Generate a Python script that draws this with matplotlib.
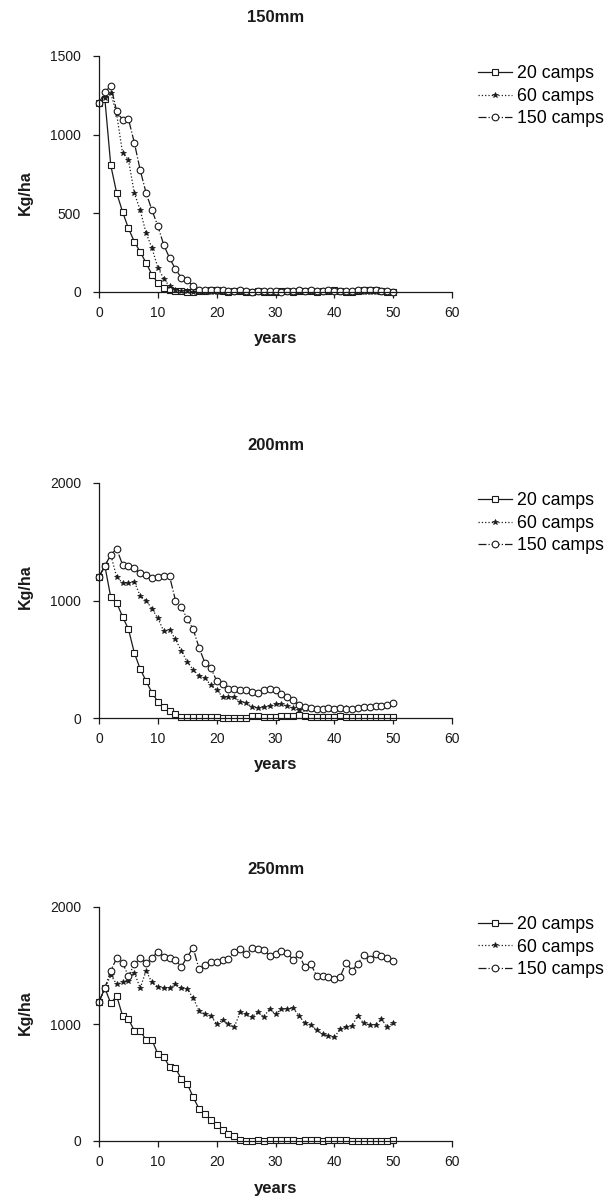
import matplotlib
matplotlib.use("Agg")
import matplotlib.pyplot as plt

plt.rcParams['font.family'] = ['Liberation Sans', 'DejaVu Sans']

# years 0..50
years = list(range(51))

# 150mm
c20_150 = [1200, 1225, 805, 630, 510, 405, 320, 255, 185, 110, 57, 25, 15, 8, 5, 3, 2,
           5, 8, 10, 10, 8, 3, 5, 5, 2, 3, 5, 3, 2, 3, 5, 5, 3, 5, 8, 5,
           3, 5, 8, 10, 5, 3, 3, 5, 12, 15, 12, 8, 2, 0]
c60_150 = [1200, 1230, 1265, 1130, 885, 840, 630, 520, 375, 280, 155, 85, 35, 15, 8, 5, 3,
           2, 2, 3, 2, 2, 2, 3, 2, 2, 2, 3, 3, 2, 2, 2, 3, 2, 2, 3, 2,
           2, 3, 2, 2, 2, 3, 3, 2, 2, 2, 3, 2, 2, 2]
c150_150 = [1200, 1270, 1310, 1150, 1095, 1100, 950, 775, 630, 520, 420, 300, 215, 145, 90, 75, 38, 10,
            10, 12, 10, 12, 5, 8, 10, 5, 3, 5, 5, 8, 5, 3, 5, 8, 10, 8, 10, 5,
            8, 10, 5, 5, 8, 5, 10, 12, 15, 12, 8, 5, 2]

# 200mm
c20_200 = [1203, 1294, 1027, 981, 862, 757, 556, 417, 315, 215, 139, 96, 60, 31, 11,
           8, 5, 5, 8, 5, 5, 3, 0, 0, 0, 2, 20, 15, 10, 8, 12, 15, 18, 20, 22,
           15, 10, 8, 8, 10, 12, 15, 8, 5, 5, 8, 5, 5, 8, 10, 8]
c60_200 = [1200, 1290, 1390, 1200, 1150, 1150, 1160, 1040, 1000, 930,
           850, 740, 750, 670, 570, 480, 410, 360, 340, 280,
           240, 180, 175, 175, 140, 130, 95, 85, 90, 105,
           115, 120, 100, 85, 65, 75, 80, 75, 80, 80,
           75, 80, 85, 75, 85, 90, 95, 100, 105, 100, 125]
c150_200 = [1200, 1294, 1390, 1440, 1305, 1295, 1275, 1230, 1220, 1190,
            1200, 1210, 1205, 1000, 947, 842, 757, 600, 469, 427,
            316, 287, 250, 245, 240, 236, 222, 216, 242, 250,
            242, 208, 179, 150, 108, 94, 85, 80, 80, 85,
            80, 85, 75, 80, 85, 90, 95, 100, 105, 110, 128]

# 250mm
c20_250 = [1190, 1307, 1176, 1241, 1071, 1043, 943, 943, 864, 864,
           744, 722, 631, 622, 531, 489, 375, 276, 233, 176,
           134, 91, 63, 40, 11,
           0, 2, 5, 3, 5, 10, 12, 8, 5, 3, 5, 8, 5, 3, 5, 10, 8, 5, 3, 2,
           2, 3, 2, 2, 3, 5]
c60_250 = [1190, 1300, 1420, 1340, 1355, 1370, 1440, 1307, 1455, 1355,
           1318, 1307, 1307, 1341, 1307, 1298, 1222, 1114, 1085, 1071,
           1000, 1034, 1000, 977, 1099, 1085, 1063, 1099, 1063, 1128,
           1085, 1128, 1128, 1136, 1071, 1006, 994, 949, 915, 900,
           886, 957, 977, 986, 1071, 1006, 994, 994, 1040, 976, 1010]
c150_250 = [1190, 1307, 1455, 1563, 1525, 1408, 1511, 1563, 1525, 1563,
            1619, 1574, 1568, 1545, 1489, 1574, 1653, 1469, 1506, 1531,
            1534, 1545, 1554, 1619, 1640, 1597, 1653, 1639, 1635, 1582,
            1597, 1625, 1611, 1545, 1597, 1483, 1511, 1412, 1412, 1398,
            1384, 1403, 1525, 1455, 1517, 1591, 1554, 1597, 1579, 1567, 1536]

titles = ["150mm", "200mm", "250mm"]
ymaxes = [1500, 2000, 2000]
yticks = [[0, 500, 1000, 1500], [0, 1000, 2000], [0, 1000, 2000]]
labels = ["20 camps", "60 camps", "150 camps"]
panels = [(c20_150, c60_150, c150_150),
          (c20_200, c60_200, c150_200),
          (c20_250, c60_250, c150_250)]

W, H = 609, 1201
fig = plt.figure(figsize=(W / 100, H / 100), dpi=100)

# axes boxes in pixels: top, bottom
boxes = [(56, 292), (483, 718), (907, 1141)]
ylab_pos = [0.42, 0.56, 0.55]
ink = '#1a1a1a'

for i in range(3):
    top, bot = boxes[i]
    ax = fig.add_axes([99 / W, 1 - bot / H, (452 - 99) / W, (bot - top) / H])
    s20, s60, s150 = panels[i]

    ax.plot(years, s20, color=ink, lw=0.9, ls='-', marker='s', ms=4.8,
            mfc='white', mec=ink, mew=0.8, label=labels[0], clip_on=False)
    ax.plot(years, s60, color=ink, lw=0.9, ls=':', marker='*', ms=4.2,
            mfc=ink, mec=ink, mew=0.5, label=labels[1], clip_on=False)
    ax.plot(years, s150, color=ink, lw=0.9, ls='-.', marker='o', ms=4.8,
            mfc='white', mec=ink, mew=0.8, label=labels[2], clip_on=False)

    ax.set_xlim(0, 60)
    ax.set_ylim(0, ymaxes[i])
    ax.set_xticks(range(0, 61, 10))
    ax.set_yticks(yticks[i])
    for sp in ['top', 'right']:
        ax.spines[sp].set_visible(False)
    for sp in ['left', 'bottom']:
        ax.spines[sp].set_linewidth(0.9)
        ax.spines[sp].set_color(ink)
    ax.tick_params(axis='both', direction='out', length=4, width=0.9,
                   labelsize=10, colors=ink)
    ax.tick_params(axis='y', pad=9)
    ax.tick_params(axis='x', pad=6)

    ax.text(0.5, 1 + 38 / (bot - top), titles[i], transform=ax.transAxes,
            ha='center', va='center', fontsize=12, fontweight='bold', color=ink)
    ax.set_xlabel("years", fontsize=12, fontweight='bold', color=ink)
    ax.xaxis.set_label_coords(0.5, -47 / (bot - top))
    ax.xaxis.label.set_va('center')
    ax.set_ylabel("Kg/ha", fontsize=11.5, fontweight='bold', color=ink)
    ax.yaxis.set_label_coords(-74 / 353, ylab_pos[i])
    ax.yaxis.label.set_va('center')

    ax.legend(loc='upper left', bbox_to_anchor=(1.074, 0.96), frameon=False,
              fontsize=12.8, handlelength=1.9, handletextpad=0.3,
              labelspacing=0.3, borderaxespad=0, borderpad=0)

fig.savefig("out.png", dpi=100)
